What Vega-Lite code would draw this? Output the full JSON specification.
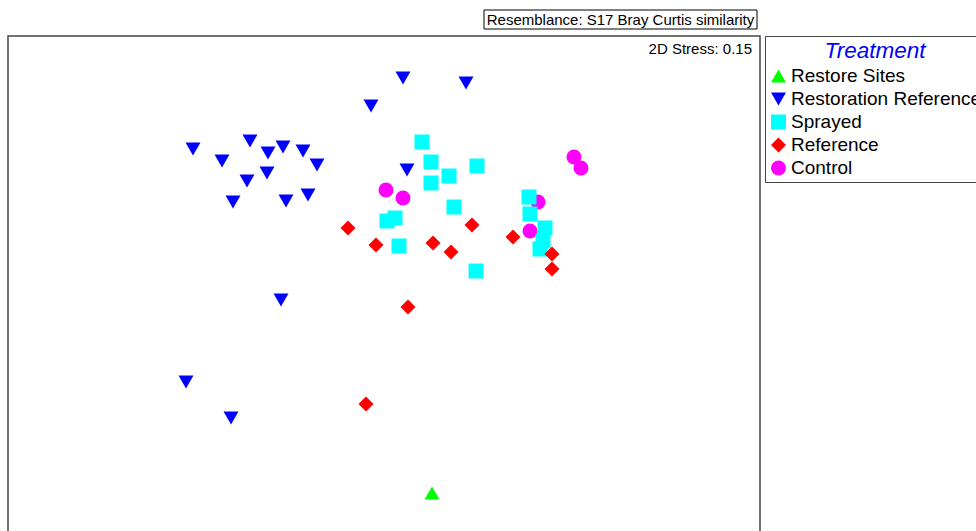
{
  "$schema": "https://vega.github.io/schema/vega-lite/v6.json",
  "width": 752,
  "height": 495,
  "autosize": {"type": "none"},
  "padding": {"left": 8, "top": 36, "right": 216, "bottom": 0},
  "background": "white",
  "config": {
    "view": {"stroke": null},
    "font": "Liberation Sans"
  },
  "datasets": {
    "points": [
      {"t": "Control", "x": 0.02, "y": 0.93},
      {"t": "Control", "x": 0.19, "y": 0.85},
      {"t": "Control", "x": 1.90, "y": 1.26},
      {"t": "Control", "x": 1.97, "y": 1.15},
      {"t": "Control", "x": 1.54, "y": 0.81},
      {"t": "Control", "x": 1.46, "y": 0.52},
      {"t": "Sprayed", "x": 0.38, "y": 1.41},
      {"t": "Sprayed", "x": 0.47, "y": 1.21},
      {"t": "Sprayed", "x": 0.65, "y": 1.07},
      {"t": "Sprayed", "x": 0.47, "y": 1.00},
      {"t": "Sprayed", "x": 0.93, "y": 1.17},
      {"t": "Sprayed", "x": 0.70, "y": 0.76},
      {"t": "Sprayed", "x": 0.11, "y": 0.65},
      {"t": "Sprayed", "x": 0.03, "y": 0.62},
      {"t": "Sprayed", "x": 0.15, "y": 0.37},
      {"t": "Sprayed", "x": 0.92, "y": 0.12},
      {"t": "Sprayed", "x": 1.45, "y": 0.86},
      {"t": "Sprayed", "x": 1.46, "y": 0.69},
      {"t": "Sprayed", "x": 1.61, "y": 0.55},
      {"t": "Sprayed", "x": 1.59, "y": 0.42},
      {"t": "Sprayed", "x": 1.56, "y": 0.34},
      {"t": "Reference", "x": -0.36, "y": 0.55},
      {"t": "Reference", "x": -0.08, "y": 0.38},
      {"t": "Reference", "x": 0.49, "y": 0.40},
      {"t": "Reference", "x": 0.67, "y": 0.31},
      {"t": "Reference", "x": 0.88, "y": 0.58},
      {"t": "Reference", "x": 1.29, "y": 0.46},
      {"t": "Reference", "x": 1.68, "y": 0.29},
      {"t": "Reference", "x": 1.68, "y": 0.14},
      {"t": "Reference", "x": 0.24, "y": -0.24},
      {"t": "Reference", "x": -0.18, "y": -1.21},
      {"t": "Restoration Reference", "x": 0.19, "y": 2.05},
      {"t": "Restoration Reference", "x": 0.82, "y": 2.00},
      {"t": "Restoration Reference", "x": -0.13, "y": 1.77},
      {"t": "Restoration Reference", "x": -1.91, "y": 1.34},
      {"t": "Restoration Reference", "x": -1.62, "y": 1.22},
      {"t": "Restoration Reference", "x": -1.34, "y": 1.42},
      {"t": "Restoration Reference", "x": -1.16, "y": 1.30},
      {"t": "Restoration Reference", "x": -1.01, "y": 1.36},
      {"t": "Restoration Reference", "x": -0.81, "y": 1.32},
      {"t": "Restoration Reference", "x": -0.67, "y": 1.18},
      {"t": "Restoration Reference", "x": -1.37, "y": 1.02},
      {"t": "Restoration Reference", "x": -1.17, "y": 1.10},
      {"t": "Restoration Reference", "x": -1.51, "y": 0.81},
      {"t": "Restoration Reference", "x": -0.98, "y": 0.82},
      {"t": "Restoration Reference", "x": -0.76, "y": 0.88},
      {"t": "Restoration Reference", "x": 0.23, "y": 1.13},
      {"t": "Restoration Reference", "x": -1.03, "y": -0.17},
      {"t": "Restoration Reference", "x": -1.98, "y": -0.99},
      {"t": "Restoration Reference", "x": -1.53, "y": -1.35},
      {"t": "Restore Sites", "x": 0.48, "y": -2.10}
    ]
  },
  "layer": [
    {
      "data": {"values": [{"x1": -3.76, "x2": 3.76, "y1": 2.47, "y2": -3.3}]},
      "mark": {"type": "rect", "filled": false, "stroke": "#444", "strokeWidth": 1.5},
      "encoding": {
        "x": {"field": "x1", "type": "quantitative", "scale": {"domain": [-3.76, 3.76], "nice": false, "zero": false}, "axis": null},
        "x2": {"field": "x2"},
        "y": {"field": "y1", "type": "quantitative", "scale": {"domain": [-2.48, 2.47], "nice": false, "zero": false}, "axis": null},
        "y2": {"field": "y2"}
      }
    },
    {
      "data": {"name": "points"},
      "mark": {"type": "point", "filled": true, "opacity": 1, "strokeWidth": 0},
      "encoding": {
        "x": {"field": "x", "type": "quantitative", "scale": {"domain": [-3.76, 3.76], "nice": false, "zero": false}, "axis": null},
        "y": {"field": "y", "type": "quantitative", "scale": {"domain": [-2.48, 2.47], "nice": false, "zero": false}, "axis": null},
        "color": {
          "field": "t", "type": "nominal", "title": "Treatment",
          "scale": {"domain": ["Restore Sites", "Restoration Reference", "Sprayed", "Reference", "Control"],
                    "range": ["#00FF00", "#0000FF", "#00FFFF", "#FF0000", "#FF00FF"]},
          "legend": {
            "orient": "none",
            "legendX": 757,
            "legendY": 0,
            "strokeColor": "#444",
            "padding": 4,
            "titleFont": "Liberation Sans",
            "titleFontSize": 22.5,
            "titleFontStyle": "italic",
            "titleFontWeight": "normal",
            "titleColor": "#0000FF",
            "titleAnchor": "middle",
            "titlePadding": 4,
            "labelFont": "Liberation Sans",
            "labelFontSize": 19,
            "labelColor": "black",
            "labelOffset": 3,
            "labelLimit": 400,
            "symbolSize": 190,
            "symbolStrokeWidth": 0,
            "symbolOpacity": 1,
            "rowPadding": 3
          }
        },
        "shape": {
          "field": "t", "type": "nominal", "title": "Treatment",
          "scale": {"domain": ["Restore Sites", "Restoration Reference", "Sprayed", "Reference", "Control"],
                    "range": ["triangle-up", "triangle-down", "square", "diamond", "circle"]},
          "legend": {
            "orient": "none",
            "legendX": 757,
            "legendY": 0,
            "strokeColor": "#444",
            "padding": 4,
            "titleFont": "Liberation Sans",
            "titleFontSize": 22.5,
            "titleFontStyle": "italic",
            "titleFontWeight": "normal",
            "titleColor": "#0000FF",
            "titleAnchor": "middle",
            "titlePadding": 4,
            "labelFont": "Liberation Sans",
            "labelFontSize": 19,
            "labelColor": "black",
            "labelOffset": 3,
            "labelLimit": 400,
            "symbolSize": 190,
            "symbolStrokeWidth": 0,
            "symbolOpacity": 1,
            "rowPadding": 3
          }
        },
        "size": {
          "field": "t", "type": "nominal", "legend": null,
          "scale": {"domain": ["Restore Sites", "Restoration Reference", "Sprayed", "Reference", "Control"],
                    "range": [225, 225, 169, 215, 144]}
        }
      }
    },
    {
      "data": {"values": [{"x1": 1.0, "x2": 3.73, "y1": 2.73, "y2": 2.54}]},
      "mark": {"type": "rect", "fill": "white", "stroke": "black", "strokeWidth": 1},
      "encoding": {
        "x": {"field": "x1", "type": "quantitative", "scale": {"domain": [-3.76, 3.76], "nice": false, "zero": false}, "axis": null},
        "x2": {"field": "x2"},
        "y": {"field": "y1", "type": "quantitative", "scale": {"domain": [-2.48, 2.47], "nice": false, "zero": false}, "axis": null},
        "y2": {"field": "y2"}
      }
    },
    {
      "data": {"values": [{"x": 2.365, "y": 2.635, "label": "Resemblance: S17 Bray Curtis similarity"}]},
      "mark": {"type": "text", "align": "center", "baseline": "middle", "fontSize": 15, "font": "Liberation Sans", "color": "black"},
      "encoding": {
        "x": {"field": "x", "type": "quantitative", "scale": {"domain": [-3.76, 3.76], "nice": false, "zero": false}, "axis": null},
        "y": {"field": "y", "type": "quantitative", "scale": {"domain": [-2.48, 2.47], "nice": false, "zero": false}, "axis": null},
        "text": {"field": "label"}
      }
    },
    {
      "data": {"values": [{"x": 3.68, "y": 2.34, "label": "2D Stress: 0.15"}]},
      "mark": {"type": "text", "align": "right", "baseline": "middle", "fontSize": 15, "font": "Liberation Sans", "color": "black"},
      "encoding": {
        "x": {"field": "x", "type": "quantitative", "scale": {"domain": [-3.76, 3.76], "nice": false, "zero": false}, "axis": null},
        "y": {"field": "y", "type": "quantitative", "scale": {"domain": [-2.48, 2.47], "nice": false, "zero": false}, "axis": null},
        "text": {"field": "label"}
      }
    }
  ]
}
